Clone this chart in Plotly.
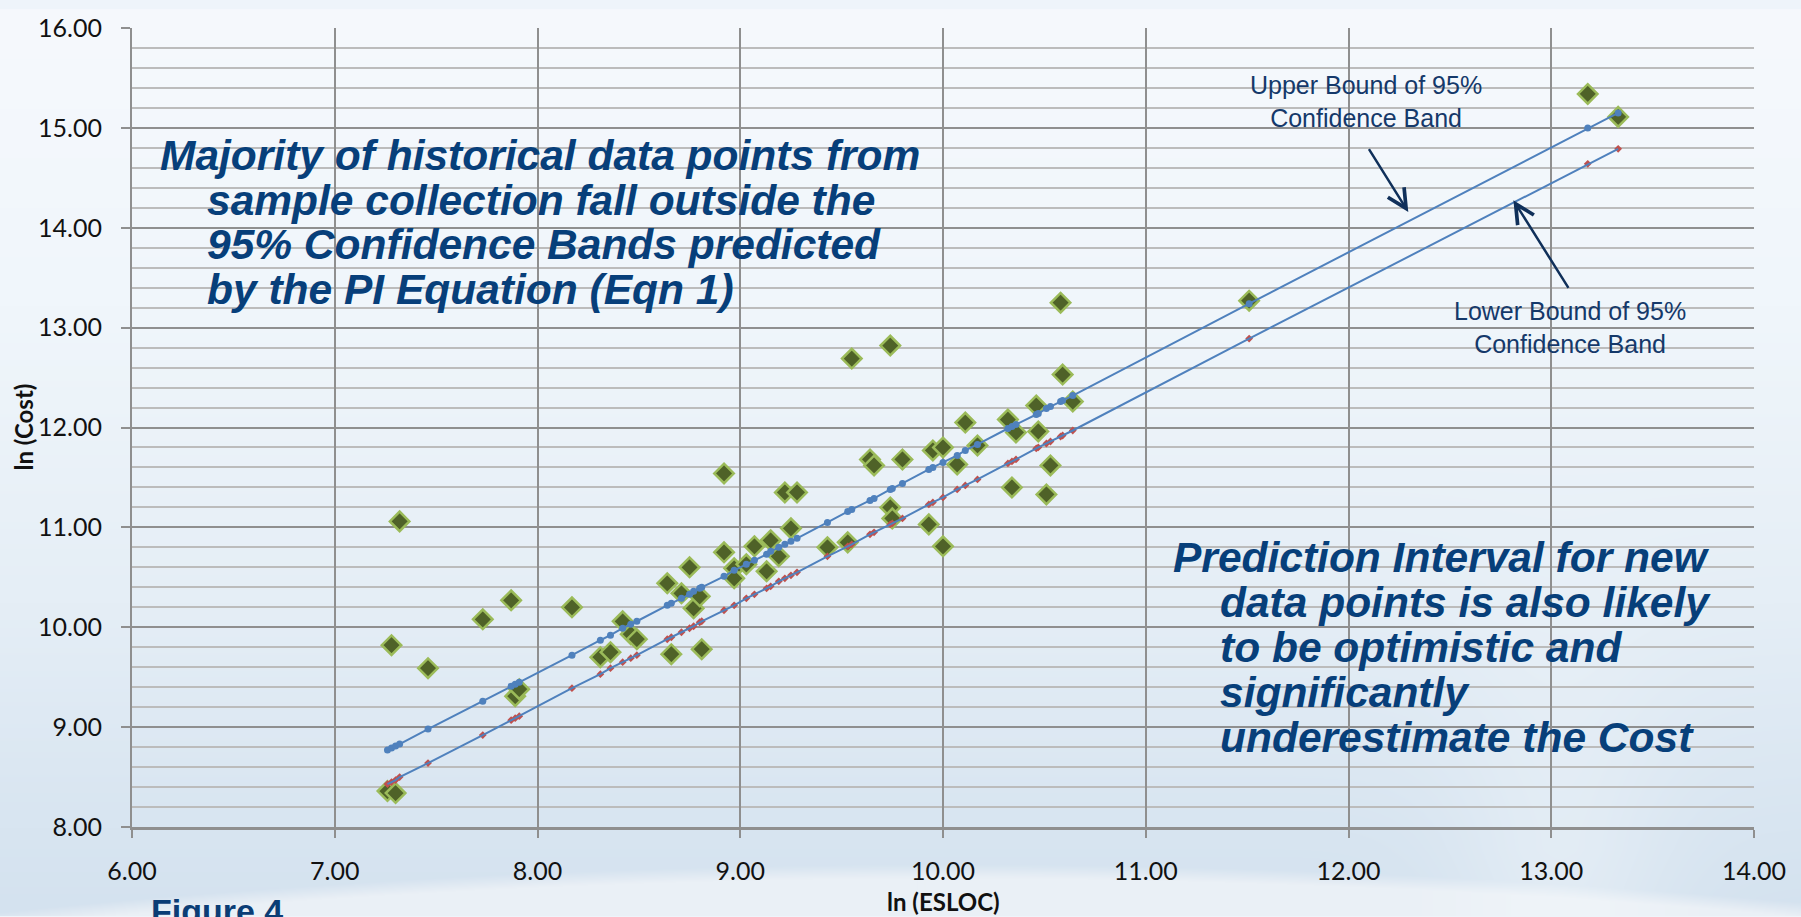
import base64
import struct
import zlib

import numpy as np
import plotly.graph_objects as go

# ---------------- data ----------------
esloc = [7.26, 7.30, 7.28, 7.32, 7.46, 7.73, 7.87, 7.89, 7.91, 8.17,
         8.31, 8.36, 8.42, 8.46, 8.49, 8.64, 8.66, 8.71, 8.75, 8.77,
         8.80, 8.81, 8.92, 8.92, 8.97, 8.97, 9.03, 9.07, 9.13, 9.15,
         9.19, 9.22, 9.25, 9.28, 9.43, 9.53, 9.55, 9.64, 9.66, 9.74,
         9.75, 9.74, 9.80, 9.93, 9.95, 10.00, 10.00, 10.07, 10.11, 10.17,
         10.32, 10.34, 10.36, 10.46, 10.47, 10.51, 10.53, 10.58, 10.59, 10.64,
         11.51, 13.18, 13.33]
cost = [8.36, 8.34, 9.82, 11.06, 9.59, 10.08, 10.27, 9.31, 9.38, 10.20,
        9.70, 9.75, 10.06, 9.93, 9.88, 10.44, 9.73, 10.34, 10.60, 10.19,
        10.31, 9.78, 11.54, 10.75, 10.59, 10.49, 10.63, 10.81, 10.56, 10.87,
        10.71, 11.35, 10.99, 11.35, 10.80, 10.85, 12.69, 11.68, 11.62, 11.20,
        11.09, 12.82, 11.68, 11.03, 11.77, 10.81, 11.80, 11.63, 12.05, 11.82,
        12.08, 11.40, 11.95, 12.22, 11.96, 11.33, 11.62, 13.25, 12.53, 12.26,
        13.27, 15.34, 15.11]

band_x = [7.26, 7.28, 7.30, 7.32, 7.46, 7.73, 7.87, 7.89, 7.91, 8.17,
          8.31, 8.36, 8.42, 8.46, 8.49, 8.64, 8.66, 8.71, 8.75, 8.77,
          8.80, 8.81, 8.92, 8.97, 9.03, 9.07, 9.13, 9.15, 9.19, 9.22,
          9.25, 9.28, 9.43, 9.53, 9.55, 9.64, 9.66, 9.74, 9.75, 9.80,
          9.93, 9.95, 10.00, 10.07, 10.11, 10.17, 10.32, 10.34, 10.36, 10.46,
          10.47, 10.51, 10.53, 10.58, 10.59, 10.64, 11.51, 13.18, 13.33]
upper_band = [8.77, 8.79, 8.81, 8.83, 8.98, 9.26, 9.41, 9.43, 9.45, 9.72,
              9.87, 9.92, 9.99, 10.03, 10.06, 10.22, 10.24, 10.29, 10.33, 10.36,
              10.39, 10.40, 10.51, 10.57, 10.63, 10.67, 10.73, 10.76, 10.80, 10.83,
              10.86, 10.89, 11.05, 11.16, 11.18, 11.27, 11.29, 11.38, 11.39, 11.44,
              11.58, 11.60, 11.65, 11.72, 11.77, 11.83, 11.99, 12.01, 12.03, 12.13,
              12.14, 12.19, 12.21, 12.26, 12.27, 12.32, 13.24, 15.00, 15.15]
lower_band = [8.43, 8.45, 8.47, 8.50, 8.64, 8.92, 9.07, 9.09, 9.11, 9.39,
              9.53, 9.59, 9.65, 9.69, 9.72, 9.88, 9.90, 9.95, 9.99, 10.01,
              10.05, 10.06, 10.17, 10.22, 10.29, 10.33, 10.39, 10.41, 10.46, 10.49,
              10.52, 10.55, 10.71, 10.81, 10.83, 10.93, 10.95, 11.03, 11.04, 11.09,
              11.23, 11.25, 11.30, 11.38, 11.42, 11.48, 11.64, 11.66, 11.68, 11.79,
              11.80, 11.84, 11.86, 11.91, 11.92, 11.97, 12.89, 14.64, 14.79]

x_ticks = [6, 7, 8, 9, 10, 11, 12, 13, 14]
y_ticks = [8, 9, 10, 11, 12, 13, 14, 15, 16]

text_left = ["Majority of historical data points from",
             "sample collection fall outside the",
             "95% Confidence Bands predicted",
             "by the PI Equation (Eqn 1)"]
text_right = ["Prediction Interval for new",
              "data points is also likely",
              "to be optimistic and",
              "significantly",
              "underestimate the Cost"]
upper_label = "Upper Bound of 95%<br>Confidence Band"
lower_label = "Lower Bound of 95%<br>Confidence Band"

# ---------------- geometry ----------------
W, H = 1801, 917
ML, MR, MT, MB = 132, 47, 19, 90
PW = W - ML - MR
PH = H - MT - MB


def pxx(xp):
    return (xp - ML) / PW


def pxy(yp):
    return (H - MB - yp) / PH


def dx(xp):
    return 6 + (xp - ML) / PW * 8


def dy(yp):
    return 16 - (yp - MT) / PH * 8


# ---------------- background picture (soft slide gradient) ----------------
ys = np.arange(H, dtype=float)
xs = np.arange(W, dtype=float)
stops = [0, 300, 600, 827, 917]
cols = np.array([[246, 249, 253], [240, 246, 251], [229, 238, 246],
                 [216, 229, 241], [212, 226, 239]], float)
base = np.stack([np.interp(ys, stops, cols[:, c]) for c in range(3)], axis=1)
img = np.repeat(base[:, None, :], W, axis=1)
X, Y = np.meshgrid(xs, ys)
arc = 864 + 48 * ((X - 950) / 950.0) ** 2
m = np.clip((Y - arc) / 14.0, 0, 1)
light = np.array([234, 240, 246], float)
img = img * (1 - m[..., None]) + light * m[..., None]
streak = np.exp(-((X - 1560) / 110.0) ** 2) * np.clip((Y - 450) / 400.0, 0, 1) * 0.35
img = img * (1 - streak[..., None]) + np.array([248, 251, 253], float) * streak[..., None]
img = np.clip(img, 0, 255).astype(np.uint8)

raw = b"".join(b"\x00" + img[i].tobytes() for i in range(H))


def chunk(tag, data):
    return (struct.pack(">I", len(data)) + tag + data
            + struct.pack(">I", zlib.crc32(tag + data) & 0xFFFFFFFF))


png = (b"\x89PNG\r\n\x1a\n"
       + chunk(b"IHDR", struct.pack(">IIBBBBB", W, H, 8, 2, 0, 0, 0))
       + chunk(b"IDAT", zlib.compress(raw, 9))
       + chunk(b"IEND", b""))
bg_uri = "data:image/png;base64," + base64.b64encode(png).decode()

# ---------------- figure ----------------
fig = go.Figure()
fig.add_trace(go.Scatter(
    x=esloc, y=cost, mode="markers",
    marker=dict(symbol="diamond", size=15, color="#4f6228",
                line=dict(color="#9bbb59", width=2.5)),
    name="Data"))
fig.add_trace(go.Scatter(
    x=band_x, y=upper_band, mode="lines+markers",
    line=dict(color="#4f81bd", width=2),
    marker=dict(symbol="circle", size=7, color="#4f81bd"),
    name="Upper"))
fig.add_trace(go.Scatter(
    x=band_x, y=lower_band, mode="markers",
    marker=dict(symbol="diamond", size=6, color="#c0504d"),
    name="Lower markers"))
fig.add_trace(go.Scatter(
    x=band_x, y=lower_band, mode="lines",
    line=dict(color="#4f81bd", width=2),
    name="Lower"))

grid_major = "#8f8f8f"
grid_minor = "#bcbcbc"
tickfont = dict(family="Lato", size=25, color="#111111")

fig.update_xaxes(
    range=[6, 14], tickvals=x_ticks, tickformat=".2f",
    showgrid=True, gridcolor=grid_major, gridwidth=1.5,
    showline=True, linecolor=grid_major, linewidth=2.5,
    ticks="outside", ticklen=8, tickwidth=1.5, tickcolor=grid_major,
    tickfont=tickfont, zeroline=False, ticklabelstandoff=12)
fig.update_yaxes(
    range=[8, 16], tickvals=y_ticks, tickformat=".2f",
    showgrid=True, gridcolor=grid_major, gridwidth=1.5,
    minor=dict(dtick=0.2, showgrid=True, gridcolor=grid_minor, gridwidth=1.5),
    showline=True, linecolor=grid_major, linewidth=2,
    ticks="outside", ticklen=9, tickwidth=1.5, tickcolor=grid_major,
    tickfont=tickfont, zeroline=False, ticklabelstandoff=14)

ann = []
big_font = dict(family="Liberation Sans", size=42.5, color="#073f7a",
                weight="bold", style="italic")
left_x = [158, 205, 205, 205]
left_base = [163, 208, 253, 298]
for t, xp, bp in zip(text_left, left_x, left_base):
    ann.append(dict(text=t, xref="paper", yref="paper", x=pxx(xp), y=pxy(bp - 15),
                    xanchor="left", yanchor="middle", showarrow=False, font=big_font))
right_x = [1171, 1218, 1218, 1218, 1218]
right_base = [569, 614.5, 660, 705.5, 751]
for t, xp, bp in zip(text_right, right_x, right_base):
    ann.append(dict(text=t, xref="paper", yref="paper", x=pxx(xp), y=pxy(bp - 15),
                    xanchor="left", yanchor="middle", showarrow=False, font=big_font))

label_font = dict(family="Liberation Sans", size=25, color="#15396a")
ann.append(dict(text=upper_label, xref="paper", yref="paper", x=pxx(1366), y=pxy(93),
                xanchor="center", yanchor="middle", showarrow=False, font=label_font))
ann.append(dict(text=lower_label, xref="paper", yref="paper", x=pxx(1569.6), y=pxy(322),
                xanchor="center", yanchor="middle", showarrow=False, font=label_font))

arrow_style = dict(showarrow=True, arrowhead=5, arrowsize=1.5, arrowwidth=2.5,
                   arrowcolor="#10305a", text="", standoff=0,
                   xref="x", yref="y", axref="x", ayref="y")
ann.append(dict(x=dx(1408.3), y=dy(205), ax=dx(1368), ay=dy(140), **arrow_style))
ann.append(dict(x=dx(1513.4), y=dy(193.3), ax=dx(1569.4), ay=dy(283.3), **arrow_style))

title_font = dict(family="Lato", size=24, color="#111111", weight="bold")
ann.append(dict(text="ln (ESLOC)", xref="paper", yref="paper", x=0.5, y=pxy(902),
                xanchor="center", yanchor="middle", showarrow=False, font=title_font))
ann.append(dict(text="ln (Cost)", xref="paper", yref="paper", x=pxx(23), y=0.5,
                xanchor="center", yanchor="middle", textangle=-90, showarrow=False,
                font=title_font))
ann.append(dict(text="Figure 4", xref="paper", yref="paper", x=pxx(149), y=pxy(891),
                xanchor="left", yanchor="top", showarrow=False,
                font=dict(family="Liberation Sans", size=34, color="#0b3d75", weight="bold")))

fig.update_layout(
    width=W, height=H, autosize=False,
    margin=dict(l=ML, r=MR, t=MT, b=MB),
    paper_bgcolor="#eef4fa", plot_bgcolor="rgba(0,0,0,0)",
    showlegend=False,
    annotations=ann,
    images=[dict(source=bg_uri, xref="paper", yref="paper",
                 x=-ML / PW, y=1 + MT / PH, sizex=W / PW, sizey=H / PH,
                 sizing="stretch", xanchor="left", yanchor="top", layer="below")],
)

fig.write_html("out.html")
